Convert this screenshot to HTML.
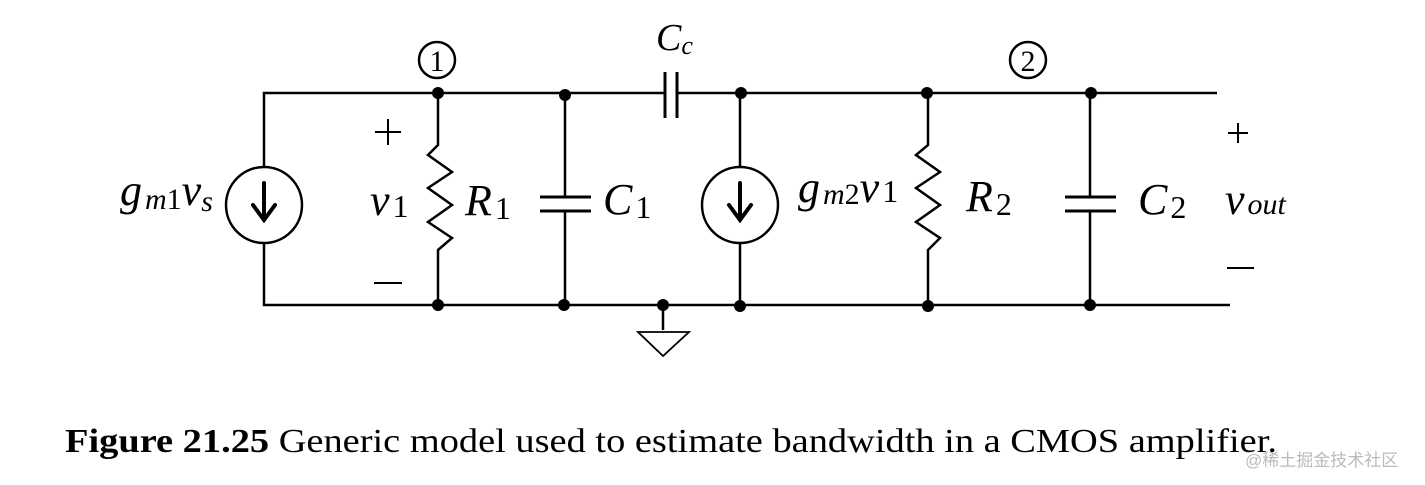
<!DOCTYPE html>
<html><head><meta charset="utf-8"><style>html,body{margin:0;padding:0;background:#fff}svg{display:block}text{font-family:"Liberation Serif",serif}.w{font-family:"Liberation Sans","Noto Sans CJK SC",sans-serif}</style></head>
<body>
<svg width="1425" height="485" viewBox="0 0 1425 485" xmlns="http://www.w3.org/2000/svg">
<g stroke="#000" stroke-width="2.5" fill="none">
<path d="M264 167 V93 H665 M677 93 H1217"/>
<path d="M264 243 V305 H1230"/>
<circle cx="264" cy="205" r="38"/>
<path d="M438 93 V145 L428 155 L452 172 L428 188 L452 205 L428 222 L452 238 L438 250 V305"/>
<path d="M565 93 V197 M565 211 V305"/>
<path d="M540 197 H591 M540 211 H591" stroke-width="3"/>
<path d="M665 72 V118 M677 72 V118" stroke-width="3"/>
<path d="M740 93 V167 M740 243 V305"/>
<circle cx="740" cy="205" r="38"/>
<path d="M928 93 V145 L916 155 L940 172 L916 188 L940 205 L916 222 L940 238 L928 250 V305"/>
<path d="M1090 93 V197 M1090 211 V305"/>
<path d="M1065 197 H1116 M1065 211 H1116" stroke-width="3"/>
<path d="M663 305 V330"/>
<path d="M638 332 H689 L663 356 Z" stroke-width="1.8"/>
<circle cx="437" cy="60" r="18" stroke-width="2.5"/>
<circle cx="1028" cy="60" r="18" stroke-width="2.5"/>
<path d="M375 132 H401 M388 119 V145 M374 283 H402" stroke-width="2"/>
<path d="M1228 133 H1248 M1238 123 V143 M1227 268 H1254" stroke-width="2"/>
</g>
<g stroke="#000" stroke-width="4" fill="none" stroke-linecap="round">
<path d="M264 183 V218 M253 205 L264 220 L275 205"/>
<path d="M740 183 V218 M729 205 L740 220 L751 205"/>
</g>
<g fill="#000">
<circle cx="438" cy="93" r="6"/><circle cx="565" cy="95" r="6"/><circle cx="741" cy="93" r="6"/><circle cx="927" cy="93" r="6"/><circle cx="1091" cy="93" r="6"/>
<circle cx="438" cy="305" r="6"/><circle cx="564" cy="305" r="6"/><circle cx="663" cy="305" r="6"/><circle cx="740" cy="306" r="6"/><circle cx="928" cy="306" r="6"/><circle cx="1090" cy="305" r="6"/>
</g>
<g fill="#000">
<text x="437" y="71" text-anchor="middle" font-size="30">1</text>
<text x="1028" y="71" text-anchor="middle" font-size="30">2</text>
<text x="656" y="50" font-style="italic" font-size="38">C<tspan font-size="26" dy="4">c</tspan></text>
<text x="120" y="205" font-style="italic" font-size="44">g<tspan font-size="30" dx="3" dy="4">m</tspan><tspan font-style="normal" font-size="30">1</tspan><tspan dy="-4">v</tspan><tspan font-size="30" dy="6">s</tspan></text>
<text x="370" y="215" font-style="italic" font-size="44">v<tspan font-style="normal" font-size="32" dy="2" dx="3">1</tspan></text>
<text x="465" y="215" font-style="italic" font-size="44">R<tspan font-style="normal" font-size="32" dy="4" dx="3">1</tspan></text>
<text x="603" y="214" font-style="italic" font-size="44">C<tspan font-style="normal" font-size="32" dy="4" dx="3">1</tspan></text>
<text x="798" y="202" font-style="italic" font-size="44">g<tspan font-size="30" dx="3" dy="2">m</tspan><tspan font-style="normal" font-size="30">2</tspan><tspan dy="-2">v</tspan><tspan font-style="normal" font-size="32" dx="3">1</tspan></text>
<text x="966" y="211" font-style="italic" font-size="44">R<tspan font-style="normal" font-size="32" dy="4" dx="3">2</tspan></text>
<text x="1138" y="214" font-style="italic" font-size="44">C<tspan font-style="normal" font-size="32" dy="4" dx="3">2</tspan></text>
<text x="1225" y="214" font-style="italic" font-size="44">v<tspan font-size="30" dx="3">out</tspan></text>
<text x="65" y="452" font-size="34" textLength="1212" lengthAdjust="spacingAndGlyphs"><tspan font-weight="bold">Figure 21.25</tspan>  Generic model used to estimate bandwidth in a CMOS amplifier.</text>
</g>
<text class="w" x="1245" y="466" font-size="17" fill="#bbb">@稀土掘金技术社区</text>
</svg>
</body></html>
